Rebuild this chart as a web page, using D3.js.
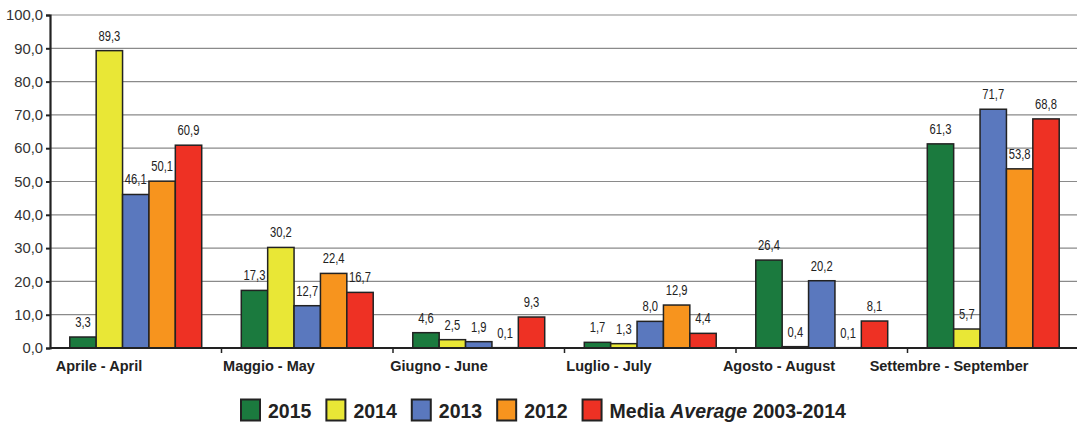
<!DOCTYPE html>
<html>
<head>
<meta charset="utf-8">
<script src="https://cdn.jsdelivr.net/npm/d3@7"></script>
<style>
  html, body { margin: 0; padding: 0; background: #fff; }
  svg { display: block; }
</style>
</head>
<body>
<svg id="chart" width="1077" height="423"></svg>
<script>
// Monthly categories (Italian - English)
const months = ["Aprile - April", "Maggio - May", "Giugno - June", "Luglio - July", "Agosto - August", "Settembre - September"];

// Series values per month
const series = ["2015", "2014", "2013", "2012", "avg"];
const values2015 = [3.3, 17.3, 4.6, 1.7, 26.4, 61.3];
const values2014 = [89.3, 30.2, 2.5, 1.3, 0.4, 5.7];
const values2013 = [46.1, 12.7, 1.9, 8.0, 20.2, 71.7];
const values2012 = [50.1, 22.4, 0.1, 12.9, 0.1, 53.8];
const valuesAvg = [60.9, 16.7, 9.3, 4.4, 8.1, 68.8];

// Y axis ticks
const yTicks = [0, 10, 20, 30, 40, 50, 60, 70, 80, 90, 100];

const colors = {
  "2015": "#1b7a3e",
  "2014": "#e9e736",
  "2013": "#5a78be",
  "2012": "#f7941e",
  "avg": "#ee3124"
};

const seriesValues = {
  "2015": values2015,
  "2014": values2014,
  "2013": values2013,
  "2012": values2012,
  "avg": valuesAvg
};

const fmt = v => d3.format(".1f")(v).replace(".", ",");

const svg = d3.select("#chart");
const plotLeft = 50, plotRight = 1079, plotTop = 15, plotBottom = 348;
const SANS = "'Liberation Sans', Arial, Helvetica, sans-serif";

const x0 = d3.scaleBand().domain(months).range([plotLeft, plotRight]).paddingInner(0).paddingOuter(0);
const x1 = d3.scaleBand().domain(series).range([0, x0.bandwidth()]).paddingInner(0).paddingOuter(0.75);
const y = d3.scaleLinear().domain([0, 100]).range([plotBottom, plotTop]);
// category label centres
const xLabel = d3.scalePoint().domain(months).range([99, 949]);

// gridlines
svg.append("g")
  .selectAll("line")
  .data(yTicks.filter(t => t > 0))
  .join("line")
  .attr("x1", plotLeft).attr("x2", 1077)
  .attr("y1", d => y(d)).attr("y2", d => y(d))
  .attr("stroke", "#8a8a8a")
  .attr("stroke-width", 1.2);

// y axis
const yAxis = svg.append("g")
  .attr("transform", `translate(${plotLeft},0)`)
  .call(d3.axisLeft(y).tickValues(yTicks).tickSize(4).tickPadding(3).tickFormat(fmt));
yAxis.select(".domain").attr("stroke", "#222").attr("stroke-width", 2.2);
yAxis.selectAll(".tick line").attr("stroke", "#222").attr("stroke-width", 2);
yAxis.selectAll(".tick text")
  .attr("font-family", SANS)
  .attr("font-size", "14.8px")
  .attr("fill", "#333");

// bars
const groups = svg.append("g")
  .selectAll("g")
  .data(months)
  .join("g")
  .attr("transform", d => `translate(${x0(d)},0)`);

groups.selectAll("rect")
  .data((m, i) => series.map(s => ({ s, v: seriesValues[s][i] })))
  .join("rect")
  .attr("x", d => x1(d.s))
  .attr("width", x1.bandwidth())
  .attr("y", d => y(d.v))
  .attr("height", d => y(0) - y(d.v))
  .attr("fill", d => colors[d.s])
  .attr("stroke", "#222")
  .attr("stroke-width", 1.5);

// value labels, horizontally condensed
const valueLabels = groups.selectAll("text")
  .data((m, i) => series.map(s => ({ s, v: seriesValues[s][i] })))
  .join("text")
  .attr("x", d => x1(d.s) + x1.bandwidth() / 2)
  .attr("y", d => y(d.v) - 10)
  .attr("text-anchor", "middle")
  .attr("font-family", SANS)
  .attr("font-size", "14px")
  .attr("fill", "#222")
  .text(d => fmt(d.v));
valueLabels.each(function () {
  const w = this.getComputedTextLength();
  d3.select(this).attr("textLength", w * 0.8).attr("lengthAdjust", "spacingAndGlyphs");
});

// x axis
const xAxisG = svg.append("g").attr("transform", `translate(0,${plotBottom})`);
xAxisG.append("line")
  .attr("x1", plotLeft).attr("x2", 1077)
  .attr("y1", 0).attr("y2", 0)
  .attr("stroke", "#222").attr("stroke-width", 2.2);
xAxisG.selectAll("line.tick")
  .data(months.slice(1))
  .join("line")
  .attr("class", "tick")
  .attr("x1", d => x0(d)).attr("x2", d => x0(d))
  .attr("y1", 0).attr("y2", 5)
  .attr("stroke", "#222").attr("stroke-width", 1.5);

svg.append("g")
  .selectAll("text")
  .data(months)
  .join("text")
  .attr("x", d => xLabel(d))
  .attr("y", 371)
  .attr("text-anchor", "middle")
  .attr("font-family", SANS)
  .attr("font-weight", "bold")
  .attr("font-size", "14.5px")
  .attr("fill", "#222")
  .text(d => d);

// legend
const legendItems = [
  { s: "2015", parts: [["2015", "normal"]] },
  { s: "2014", parts: [["2014", "normal"]] },
  { s: "2013", parts: [["2013", "normal"]] },
  { s: "2012", parts: [["2012", "normal"]] },
  { s: "avg", parts: [["Media ", "normal"], ["Average", "italic"], [" 2003-2014", "normal"]] }
];

const legend = svg.append("g").attr("transform", "translate(240,410)");
let lx = 0;
legendItems.forEach(item => {
  const g = legend.append("g").attr("transform", `translate(${lx},0)`);
  g.append("rect")
    .attr("x", 1).attr("y", -10.5)
    .attr("width", 19).attr("height", 21)
    .attr("fill", colors[item.s])
    .attr("stroke", "#222").attr("stroke-width", 2);
  const t = g.append("text")
    .attr("x", 28).attr("y", 7.5)
    .attr("font-family", SANS)
    .attr("font-weight", "bold")
    .attr("font-size", "19.5px")
    .attr("fill", "#222")
    .attr("xml:space", "preserve");
  item.parts.forEach(([txt, st]) => {
    t.append("tspan").attr("font-style", st).text(txt);
  });
  lx += 28 + t.node().getComputedTextLength() + 14;
});
</script>
</body>
</html>
